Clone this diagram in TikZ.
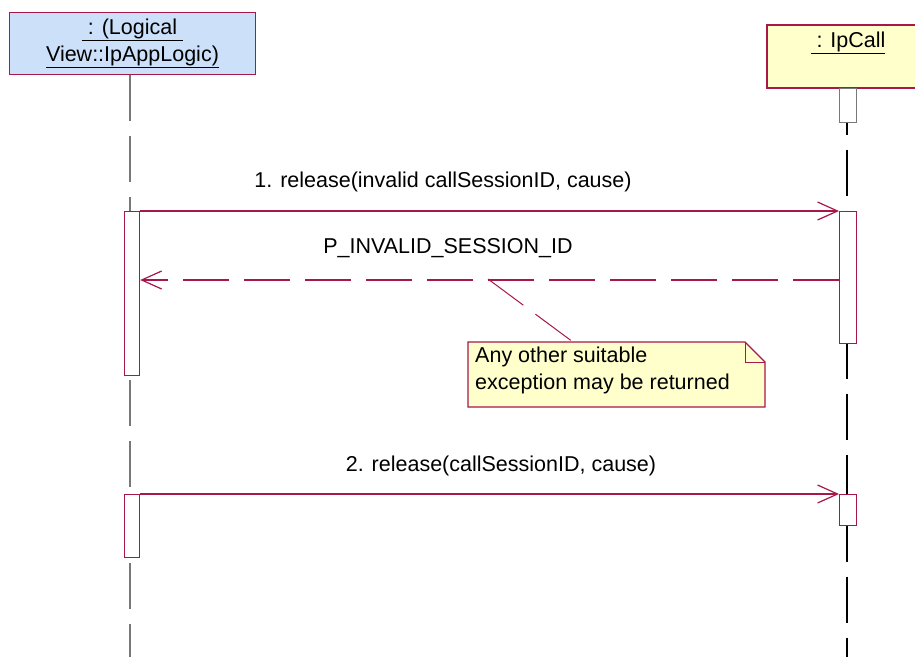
\documentclass[tikz,border=0pt]{standalone}
\usepackage{fontspec}
\setmainfont{Liberation Sans}
\usetikzlibrary{arrows.meta}
\definecolor{umlred}{RGB}{166,23,74}
\definecolor{umlblue}{RGB}{204,224,250}
\definecolor{umlyellow}{RGB}{255,255,204}
\definecolor{lifegray}{RGB}{120,120,120}
\tikzset{
  objbox/.style={draw=umlred, line width=1.3pt, inner sep=0pt, align=center},
  actbox/.style={draw=umlred, fill=white, line width=1.2pt, inner sep=0pt, anchor=north west},
  lifeline/.style={line width=1.1pt, dash pattern=on 46pt off 15pt},
  msgline/.style={draw=umlred, line width=1.2pt, -{Straight Barb[length=20pt,width=18pt,line width=1.2pt]}},
  retline/.style={msgline, dash pattern=on 46pt off 15pt},
  notelink/.style={draw=umlred, line width=1pt, dash pattern=on 44pt off 15pt},
  lbl/.style={inner sep=0pt}
}
\begin{document}
\begin{tikzpicture}[x=1pt,y=-1pt, font=\fontsize{21.5}{27}\selectfont]
\useasboundingbox (0,0) rectangle (915,657);
% objects
\node[objbox, fill=umlblue, minimum width=246pt, minimum height=62pt] (A) at (132.5,43.5)
  {\underline{ : (Logical }\\\underline{View::IpAppLogic)}};
\node[objbox, fill=umlyellow, minimum width=170pt, minimum height=63pt] (B) at (852,56.5) {};
\node[inner sep=0pt] (Bt) at (848,43) {\underline{ : IpCall}};
% lifelines
\coordinate (Aend) at (130,657);
\coordinate (Bend) at (847,657);
\draw[lifeline, lifegray, line width=1.3pt] (A.south -| Aend) -- (Aend);
\draw[lifeline, black] (B.south -| Bend) -- (Bend);
% activations
\node[actbox, draw=lifegray, minimum width=17pt, minimum height=34pt] (b0) at (839,88) {};
\node[actbox, minimum width=15pt, minimum height=164pt] (a1) at (124,211) {};
\node[actbox, minimum width=17pt, minimum height=132pt] (b1) at (839,211) {};
\node[actbox, minimum width=15pt, minimum height=63pt] (a2) at (124,494) {};
\node[actbox, minimum width=17pt, minimum height=31pt] (b2) at (839,494) {};
% messages
\coordinate (ry) at (0,280);
\draw[msgline] (a1.north east) -- (b1.north west);
\draw[retline] (b1.west |- ry) -- (a1.east |- ry);
\draw[msgline] (a2.north east) -- (b2.north west);
\node[lbl] (m1) at (443,182) {1. release(invalid callSessionID, cause)};
\node[lbl] (m2) at (448,248) {P\_INVALID\_SESSION\_ID};
\node[lbl] (m3) at (501,466) {2. release(callSessionID, cause)};
% note
\coordinate (n1) at (468,342);
\coordinate (n2) at (745,342);
\coordinate (n3) at (765,362);
\coordinate (n4) at (765,407);
\coordinate (n5) at (468,407);
\draw[umlred, fill=umlyellow, line width=1.2pt] (n1) -- (n2) -- (n3) -- (n4) -- (n5) -- cycle;
\draw[umlred, line width=1pt] (n2) -- (n2 |- n3) -- (n3);
\node[anchor=west, align=left, inner sep=0pt] (nt) at (475,370) {Any other suitable\\exception may be returned};
\coordinate (c1) at (488,279);
\coordinate (c2) at (573,342);
\draw[notelink] (c1) -- (c2);
\end{tikzpicture}
\end{document}
